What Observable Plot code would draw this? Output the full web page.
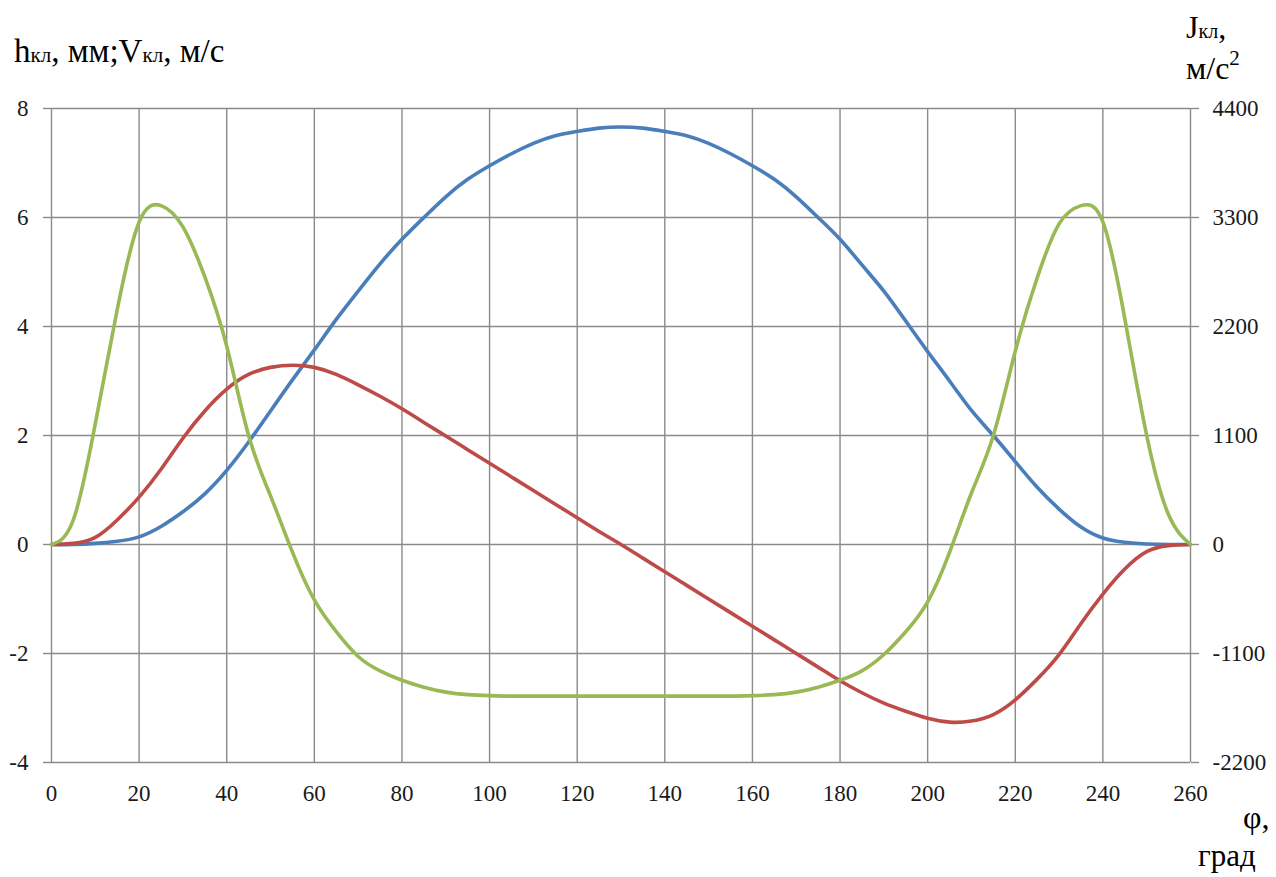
<!DOCTYPE html>
<html><head><meta charset="utf-8">
<script src="https://cdn.jsdelivr.net/npm/d3@7"></script>
<script src="https://cdn.jsdelivr.net/npm/@observablehq/plot@0.6"></script>
<style>
body{margin:0;background:#fff;}
#wrap{position:relative;width:1276px;height:877px;overflow:hidden;}
#wrap svg, #wrap svg text, #wrap svg tspan{font-family:"Liberation Serif","DejaVu Serif","Times New Roman",serif !important;}
</style>
</head><body>
<div id="wrap"></div>
<script>
// angle, degrees
const phi = [0,5,10,15,20,25,30,35,40,45,50,55,60,65,70,75,80,85,90,95,100,105,110,115,120,125,130,
  135,140,145,150,155,160,165,170,175,180,185,190,195,200,205,210,215,220,225,230,235,240,245,250,255,260];
// valve lift h, mm
const hLift = [0,0,0.02,0.06,0.14,0.33,0.6,0.93,1.36,1.88,2.45,3.02,3.57,4.13,4.65,5.15,5.6,6.0,6.38,6.7,6.95,7.17,7.36,7.5,7.58,7.64,7.66,
  7.64,7.58,7.5,7.36,7.17,6.95,6.7,6.38,6.0,5.6,5.13,4.65,4.1,3.54,3.0,2.46,2.0,1.52,1.05,0.65,0.32,0.12,0.04,0.01,0,0];
// valve velocity V, m/s
const vVel = [0,0.02,0.13,0.45,0.87,1.38,1.95,2.45,2.85,3.12,3.25,3.29,3.25,3.12,2.93,2.72,2.49,2.24,1.99,1.74,1.49,1.24,0.99,0.74,0.49,0.24,0,
  -0.25,-0.5,-0.75,-1.0,-1.25,-1.5,-1.75,-2.0,-2.25,-2.5,-2.72,-2.91,-3.06,-3.19,-3.26,-3.24,-3.12,-2.85,-2.47,-2.02,-1.45,-0.91,-0.45,-0.13,-0.02,0];
// valve acceleration J, m/s^2 (right axis)
const jAcc = [0,250,1220,2370,3255,3420,3205,2700,2000,1100,490,-77,-560,-880,-1130,-1275,-1370,-1440,-1490,-1515,-1525,-1530,-1530,-1530,-1530,-1530,-1530,
  -1530,-1530,-1530,-1530,-1530,-1525,-1515,-1490,-1440,-1370,-1275,-1110,-880,-578,-80,520,1100,1950,2690,3235,3420,3255,2280,1100,300,0];

const xTicks = [0,20,40,60,80,100,120,140,160,180,200,220,240,260];
const yTicks = [-4,-2,0,2,4,6,8];
const jTicks = [-2200,-1100,0,1100,2200,3300,4400];
const jPerUnit = 550; // right-axis units per left-axis unit

const rows = phi.map((p,i)=>({phi:p, h:hLift[i], v:vVel[i], j:jAcc[i]}));

const ff = "Liberation Serif, DejaVu Serif, Times New Roman, serif";
const grid = "#8a8a8a";
const chart = Plot.plot({
  width:1276, height:877,
  marginLeft:51, marginRight:86, marginTop:108, marginBottom:115,
  style:{fontFamily:ff, fontSize:"23px", color:"#1a1a1a", background:"#fff"},
  x:{domain:[0,260]},
  y:{domain:[-4,8]},
  marks:[
    Plot.gridX(xTicks,{stroke:grid, strokeOpacity:1, strokeWidth:1.4}),
    Plot.gridY(yTicks,{stroke:grid, strokeOpacity:1, strokeWidth:1.4}),
    Plot.axisX(xTicks,{tickSize:0, tickPadding:22, label:null, fill:"#1a1a1a", tickFormat:d=>String(d)}),
    Plot.axisY(yTicks,{anchor:"left", tickSize:8, tickPadding:15, label:null, stroke:grid, strokeWidth:1.4, fill:"#1a1a1a", tickFormat:d=>String(d)}),
    Plot.axisY(jTicks.map(t=>t/jPerUnit),{anchor:"right", tickSize:8, tickPadding:14, label:null, stroke:grid, strokeWidth:1.4, fill:"#1a1a1a",
      tickFormat:d=>String(Math.round(d*jPerUnit))}),
    Plot.line(rows,{x:"phi", y:"h", stroke:"#4A7EBB", strokeWidth:3.6, curve:"natural"}),
    Plot.line(rows,{x:"phi", y:"v", stroke:"#BE4B48", strokeWidth:3.6, curve:"natural"}),
    Plot.line(rows,{x:"phi", y:d=>d.j/jPerUnit, stroke:"#98B954", strokeWidth:3.6, curve:"natural"})
  ]
});
document.getElementById("wrap").appendChild(chart);

// axis titles as real text
const svg = d3.select(chart);
function label(x, y, parts){
  const t = svg.append("text").attr("x",x).attr("y",y).attr("text-anchor","start")
    .style("font-family",ff).attr("fill","#000");
  parts.forEach(p=>{
    const ts = t.append("tspan").attr("font-size",p.s).text(p.t);
    if(p.dy) ts.attr("dy",p.dy);
  });
}
label(14, 62, [{t:"h",s:33},{t:"кл",s:21},{t:", мм;V",s:33},{t:"кл",s:21},{t:", м/с",s:33}]);
label(1186, 38, [{t:"J",s:32},{t:"кл",s:20},{t:",",s:32}]);
label(1186, 79, [{t:"м/с",s:32},{t:"2",s:21,dy:-14}]);
label(1243, 828, [{t:"φ,",s:32}]);
label(1198, 866, [{t:"град",s:31}]);
</script>
</body></html>
